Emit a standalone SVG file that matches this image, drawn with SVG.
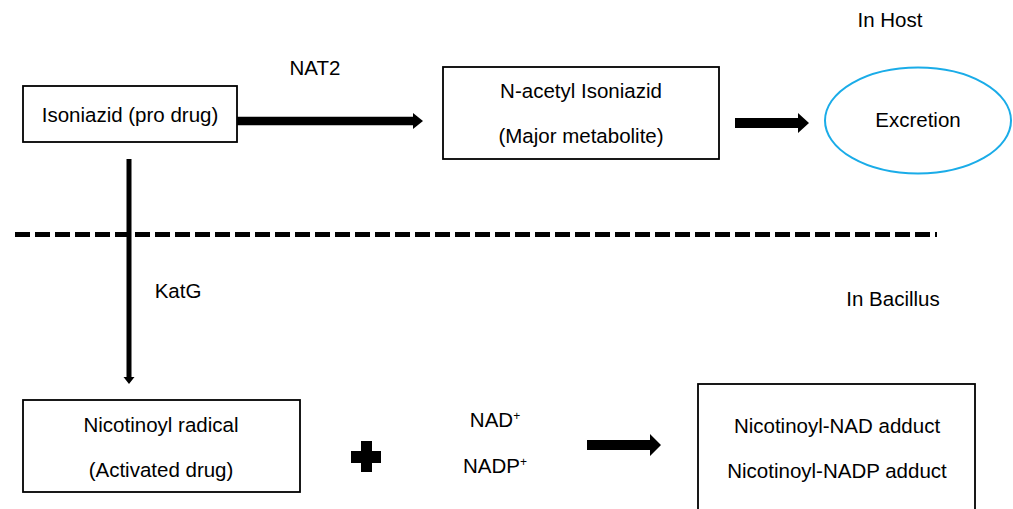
<svg xmlns="http://www.w3.org/2000/svg" width="1013" height="509" viewBox="0 0 1013 509">
<style>
text{font-family:"Liberation Sans",Arial,sans-serif;font-size:20.5px;fill:#000;text-anchor:middle}
.box{fill:#fff;stroke:#000;stroke-width:1.8}
.lbl{font-size:20.5px}
.arr{fill:#000}
</style>
<rect width="1013" height="509" fill="#fff"/>
<g id="connectors">
<line x1="15" y1="234.5" x2="937" y2="234.5" stroke="#000" stroke-width="5" stroke-dasharray="15 5"/>
<polygon class="arr" points="237,116.7 413,116.7 413,113 423,121 413,129 413,125.3 237,125.3"/>
<polygon class="arr" points="735,118 798,118 798,113 809,123 798,133 798,128 735,128"/>
<polygon class="arr" points="126.5,159 131.5,159 131.5,377 134.5,377 129,384 123.5,377 126.5,377"/>
<polygon class="arr" points="587,440 650,440 650,434 661,445 650,456 650,450 587,450"/>
</g>
<g id="labels">
<text class="lbl" x="315" y="75">NAT2</text>
<text class="lbl" x="178" y="298">KatG</text>
<text class="lbl" x="890" y="27">In Host</text>
<text class="lbl" x="893" y="306">In Bacillus</text>
</g>
<g id="isoniazid">
<rect class="box" x="23" y="86" width="214" height="56"/>
<text x="130" y="122">Isoniazid (pro drug)</text>
</g>
<g id="n-acetyl">
<rect class="box" x="443" y="67" width="276" height="92"/>
<text x="581" y="98">N-acetyl Isoniazid</text>
<text x="581" y="143">(Major metabolite)</text>
</g>
<g id="excretion">
<ellipse cx="918" cy="120.5" rx="93" ry="53" fill="#fff" stroke="#1AACE8" stroke-width="2"/>
<text x="918" y="127">Excretion</text>
</g>
<g id="nicotinoyl-radical">
<rect class="box" x="23" y="400" width="277" height="92"/>
<text x="161" y="432">Nicotinoyl radical</text>
<text x="161" y="477">(Activated drug)</text>
</g>
<g id="plus">
<rect x="361" y="441" width="11" height="31" fill="#000"/>
<rect x="351" y="451" width="30" height="12" fill="#000"/>
</g>
<g id="cofactors">
<text x="495" y="427">NAD<tspan font-size="12" dy="-7">+</tspan></text>
<text x="495" y="473">NADP<tspan font-size="12" dy="-7">+</tspan></text>
</g>
<g id="adducts">
<rect class="box" x="698" y="384" width="277" height="140"/>
<text x="837" y="433">Nicotinoyl-NAD adduct</text>
<text x="837" y="478">Nicotinoyl-NADP adduct</text>
</g>
</svg>
